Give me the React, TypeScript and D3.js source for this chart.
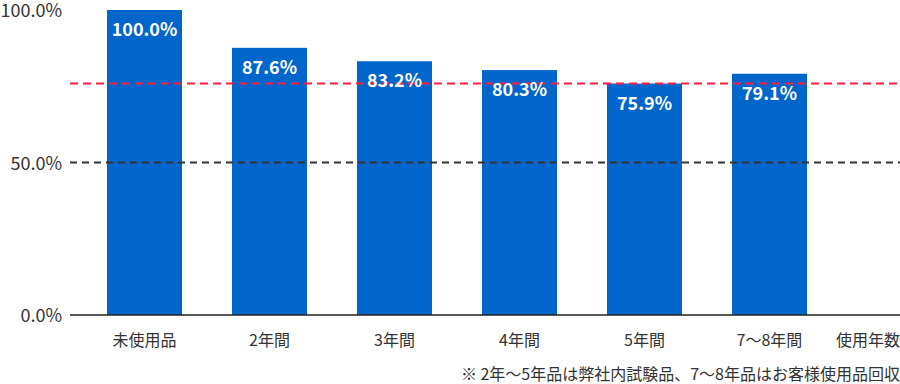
import React from "react";
import * as d3 from "d3";

const categories = ["未使用品", "2年間", "3年間", "4年間", "5年間", "7〜8年間"];
const values = [100.0, 87.6, 83.2, 80.3, 75.9, 79.1];
const yTicks = [0, 50, 100];
const redLineValue = 75.9;
const xAxisTitle = "使用年数";
const footnote = "※ 2年〜5年品は弊社内試験品、7〜8年品はお客様使用品回収";

const width = 900;
const height = 384;
const font = "'Noto Sans CJK JP', 'Noto Sans', sans-serif";

const App = () => {
  const x = d3.scaleBand<string>()
    .domain(categories)
    .range([82, 832])
    .paddingInner(0.4)
    .paddingOuter(0.2);

  const y = d3.scaleLinear().domain([0, 100]).range([315, 10]);

  return (
    <svg
      width={width}
      height={height}
      style={{ position: "absolute", left: 0, top: 0, fontFamily: font }}
    >
      {/* bars */}
      {categories.map((c, i) => (
        <rect
          key={c}
          x={x(c)}
          y={y(values[i])}
          width={x.bandwidth()}
          height={y(0) - y(values[i])}
          fill="#0066cc"
        />
      ))}

      {/* reference lines */}
      <line x1={70} x2={900} y1={y(50)} y2={y(50)} stroke="#333" strokeWidth={2} strokeDasharray="7 5" />
      <line x1={70} x2={900} y1={y(redLineValue)} y2={y(redLineValue)} stroke="#ff1e3c" strokeWidth={2} strokeDasharray="8 5" />

      {/* value labels */}
      {categories.map((c, i) => (
        <text
          key={c}
          x={(x(c) ?? 0) + x.bandwidth() / 2}
          y={y(values[i]) + 26}
          textAnchor="middle"
          fill="#fff"
          fontSize={18}
          fontWeight="bold"
        >
          {values[i].toFixed(1)}%
        </text>
      ))}

      {/* x axis */}
      <line x1={70} x2={900} y1={y(0)} y2={y(0)} stroke="#222" strokeWidth={1.5} />
      {categories.map((c) => (
        <text
          key={c}
          x={(x(c) ?? 0) + x.bandwidth() / 2}
          y={346}
          textAnchor="middle"
          fill="#333"
          fontSize={16}
        >
          {c}
        </text>
      ))}
      <text x={900} y={346} textAnchor="end" fill="#333" fontSize={16}>
        {xAxisTitle}
      </text>

      {/* y tick labels */}
      {yTicks.map((t) => (
        <text key={t} x={62} y={y(t) + 7} textAnchor="end" fill="#333" fontSize={18}>
          {t.toFixed(1)}%
        </text>
      ))}

      <text x={900} y={380} textAnchor="end" fill="#333" fontSize={16}>
        {footnote}
      </text>
    </svg>
  );
};

export default App;
